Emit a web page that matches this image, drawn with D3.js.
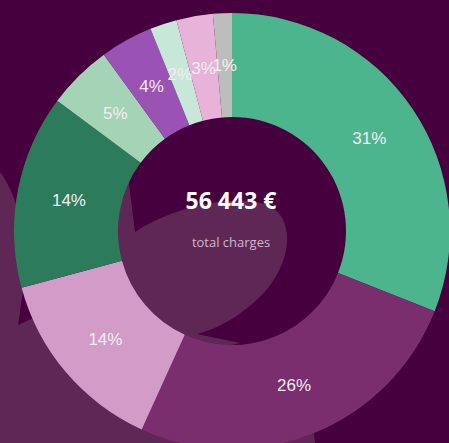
<!DOCTYPE html>
<html>
<head>
<meta charset="utf-8">
<script src="https://cdn.jsdelivr.net/npm/d3@7"></script>
<style>
  html, body { margin: 0; padding: 0; background: #45003d; overflow: hidden; }
  svg { display: block; }
</style>
</head>
<body>
<svg id="chart" width="449" height="443"></svg>
<script>
// ---- data ----
const categories = ["Charge 1", "Charge 2", "Charge 3", "Charge 4", "Charge 5", "Charge 6", "Charge 7", "Charge 8", "Charge 9"];
const shares = [31.0, 25.8, 14.0, 14.4, 4.8, 3.9, 2.0, 2.7, 1.4];
const colors = ["#4cb58e", "#7a2e6e", "#d29bc8", "#2c7b5a", "#a4d3b6", "#9a52b4", "#c7e7d9", "#e8b3d8", "#bdbdbd"];
const total = 56443;
const totalLabel = "total charges";

// ---- layout ----
const W = 449, H = 443;
const cx = 232, cy = 231, rOuter = 218, rInner = 114;
const svg = d3.select("#chart");

svg.append("rect").attr("width", W).attr("height", H).attr("fill", "#45003d");

// decorative background shapes
const deco = svg.append("g").attr("fill", "#5e2756");
deco.append("path").attr("d",
  "M 0,172 C 10,185 18,205 22,230 L 23,290 L 18,325 L 40,315 L 200,360 L 313,425 L 315,443 L 0,443 Z");
deco.append("path").attr("d",
  "M 126,160 L 135,232 C 165,212 225,192 268,205 C 295,218 292,258 268,288 C 245,315 215,330 197,334 L 240,343 L 200,352 L 120,352 L 110,240 Z");

const g = svg.append("g").attr("transform", `translate(${cx},${cy})`);

const pie = d3.pie().sort(null).value(d => d.v);
const arcs = pie(shares.map((v, i) => ({ v, c: colors[i], name: categories[i] })));
const arc = d3.arc().innerRadius(rInner).outerRadius(rOuter);

g.selectAll("path.slice").data(arcs).join("path")
  .attr("class", "slice")
  .attr("d", arc)
  .attr("fill", d => d.data.c);

g.selectAll("text.pct").data(arcs).join("text")
  .attr("class", "pct")
  .attr("transform", d => `translate(${arc.centroid(d)})`)
  .attr("text-anchor", "middle")
  .attr("dy", "0.36em")
  .attr("font-family", "'Liberation Sans', Arial, sans-serif")
  .attr("font-size", 17)
  .attr("fill", "#f4eef4")
  .text(d => Math.round(d.data.v) + "%");

const fmt = n => d3.format(",")(n).replace(/,/g, " ");
g.append("text")
  .attr("x", -1).attr("y", -22)
  .attr("text-anchor", "middle")
  .attr("font-family", "'Open Sans', sans-serif")
  .attr("font-weight", 700)
  .attr("font-size", 23)
  .attr("fill", "#ffffff")
  .text(fmt(total) + " €");

g.append("text")
  .attr("x", -1).attr("y", 16)
  .attr("text-anchor", "middle")
  .attr("font-family", "'Open Sans', sans-serif")
  .attr("font-size", 13)
  .attr("fill", "#cdb9cc")
  .text(totalLabel);
</script>
</body>
</html>
